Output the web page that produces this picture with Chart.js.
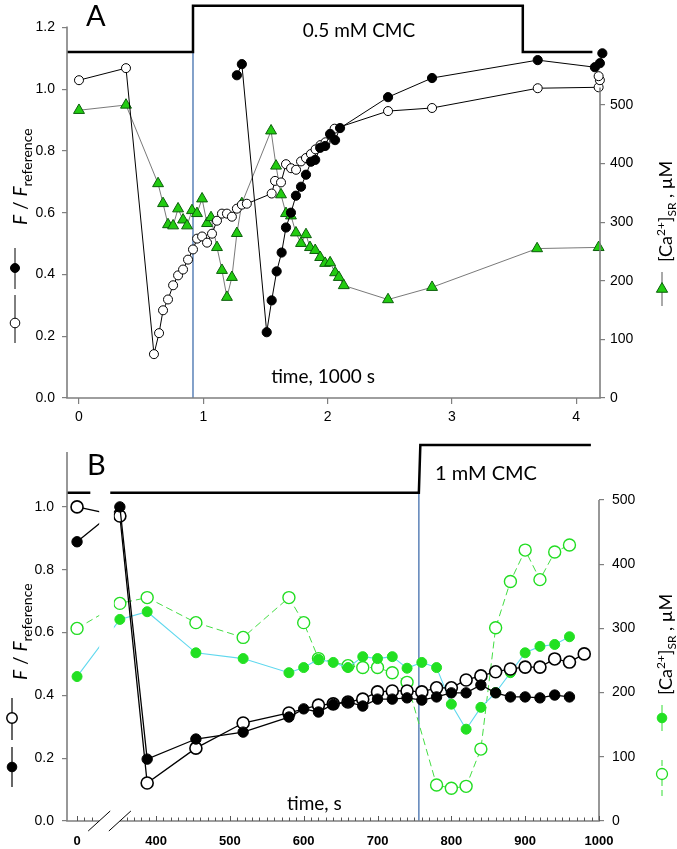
<!DOCTYPE html>
<html>
<head>
<meta charset="utf-8">
<script src="https://cdn.jsdelivr.net/npm/chart.js@4.4.1/dist/chart.umd.min.js"></script>
<style>
  html, body { margin:0; padding:0; background:#fff; }
  #a { position:absolute; left:0; top:0; }
  #b { position:absolute; left:0; top:430px; }
</style>
</head>
<body>
<canvas id="a" width="677" height="430"></canvas>
<canvas id="b" width="677" height="419"></canvas>
<script>
// ================= Panel A data (time in 1000 s) =================
const aTimeTicks = [0, 1, 2, 3, 4];
const aFTicks = [0, 0.2, 0.4, 0.6, 0.8, 1.0, 1.2];
const aCaTicks = [0, 100, 200, 300, 400, 500];

const aOpenT = [0,0.378,0.603,0.644,0.676,0.716,0.757,0.797,0.837,0.877,0.917,0.95,0.99,1.03,1.07,1.11,1.15,1.19,1.23,1.27,1.31,1.35,1.55,1.577,1.625,1.665,1.706,1.746,1.786,1.826,1.866,1.903,1.943,1.983,2.023,2.056,2.486,2.84,3.69,4.18,4.19,4.18];
const aOpenF = [1.029,1.068,0.142,0.21,0.284,0.319,0.365,0.397,0.416,0.448,0.481,0.516,0.523,0.503,0.532,0.574,0.597,0.597,0.587,0.613,0.626,0.629,0.662,0.703,0.698,0.757,0.744,0.739,0.766,0.777,0.79,0.805,0.819,0.828,0.852,0.872,0.929,0.939,1.003,1.006,1.029,1.042];

const aFillT = [1.27,1.31,1.51,1.55,1.59,1.63,1.665,1.705,1.745,1.786,1.826,1.866,1.9,1.94,1.98,2.02,2.06,2.10,2.486,2.84,3.69,4.15,4.19,4.21];
const aFillF = [1.045,1.081,0.213,0.316,0.41,0.471,0.552,0.60,0.655,0.684,0.723,0.765,0.771,0.81,0.816,0.855,0.835,0.874,0.974,1.036,1.094,1.071,1.084,1.116];

const aCaT = [0,0.378,0.636,0.676,0.716,0.757,0.797,0.837,0.869,0.909,0.949,0.99,1.03,1.062,1.11,1.15,1.19,1.23,1.27,1.31,1.545,1.585,1.625,1.665,1.705,1.745,1.786,1.826,1.858,1.9,1.94,1.98,2.02,2.06,2.09,2.13,2.486,2.84,3.685,4.18];
const aCa  = [491,500,366,332,296,294,323,304,294,320,315,340,298,308,257,218,172,206,281,332,456,396,347,315,311,282,264,279,257,252,240,230,231,214,206,192,168,189,255,257];

const aStepT = [-0.0965, 0.917, 0.917, 3.57, 3.57, 4.13];
const aStepF = [1.12, 1.12, 1.27, 1.27, 1.12, 1.12];
const aCmcOn = 0.917;

// ================= Panel B data (time in s) =================
const bTimeTicks = [0, 400, 500, 600, 700, 800, 900, 1000];
const bFTicks = [0, 0.2, 0.4, 0.6, 0.8, 1.0];
const bCaTicks = [0, 100, 200, 300, 400, 500];

const bOpenT = [0,351,388,454,518,580,620,640,660,680,700,720,740,760,780,800,820,840,860,880,900,920,940,960,980];
const bOpenF = [1.0,0.971,0.121,0.232,0.312,0.344,0.369,0.373,0.379,0.388,0.411,0.414,0.414,0.411,0.424,0.424,0.449,0.462,0.475,0.484,0.49,0.49,0.516,0.506,0.532];

const bFillT = [0,351,388,454,518,580,600,620,640,660,680,700,720,740,760,780,800,820,840,860,880,900,920,940,960];
const bFillF = [0.889,1.0,0.197,0.261,0.283,0.331,0.357,0.347,0.371,0.379,0.366,0.388,0.388,0.392,0.385,0.395,0.408,0.408,0.433,0.408,0.395,0.395,0.392,0.401,0.395];

const bCaOpenT = [0,351,388,454,518,580,600,620,660,680,700,720,740,780,800,820,840,860,880,900,920,940,960];
const bCaOpen  = [300,339,348,309,286,348,309,253,242,239,239,231,216,56,51,54,112,301,373,422,376,419,430];

const bCaFillT = [0,351,388,454,518,580,600,620,640,660,680,700,720,740,760,780,800,820,840,860,880,900,920,940,960];
const bCaFill  = [225,314,326,262,253,231,239,252,247,239,256,253,256,238,247,239,182,143,177,200,231,262,272,275,287];

const bStepT = [279.4, 311, null, 338, 756, 758, 989];
const bStepF = [1.045, 1.045, null, 1.045, 1.045, 1.197, 1.197];
const bCmcOn = 756;

// ================= layout constants =================
const bZeroAt = 293;          // axis position where t = 0 is drawn (broken axis)
const bBreak = [323, 351];    // axis gap
const bx = t => (t === 0 ? bZeroAt : t);
const pts = (xs, ys, f = v => v) => xs.map((t, i) => ({ x: f(t), y: ys[i] }));

const AXIS = '#7f7f7f';
const BLUE = '#5b82b8';
const TICKFONT = { family: 'Liberation Sans, Arial, sans-serif', size: 14 };
const LBL = 'Lato, "Open Sans", sans-serif';

function setTicks(list, map = v => v) {
  return function (axis) { axis.ticks = list.map(v => ({ value: map(v) })); };
}
function fitW(w) { return s => { s.width = w; s.paddingTop = 0; s.paddingBottom = 0; }; }
function fitH(h) { return s => { s.height = h; s.paddingLeft = 0; s.paddingRight = 0; }; }
function rotText(ctx, x, y, parts) {
  ctx.save();
  ctx.translate(x, y);
  ctx.rotate(-Math.PI / 2);
  ctx.textAlign = 'left'; ctx.textBaseline = 'alphabetic'; ctx.fillStyle = '#000';
  let cx = 0;
  for (const p of parts) { ctx.font = p.f; ctx.fillText(p.t, cx, p.dy || 0); cx += ctx.measureText(p.t).width; }
  ctx.restore();
}
function vline(ctx, x, y1, y2, color, width, dash) {
  ctx.save(); ctx.strokeStyle = color; ctx.lineWidth = width; ctx.setLineDash(dash || []);
  ctx.beginPath(); ctx.moveTo(x, y1); ctx.lineTo(x, y2); ctx.stroke(); ctx.restore();
}
function circ(ctx, x, y, r, fill, stroke, lw) {
  ctx.save(); ctx.beginPath(); ctx.arc(x, y, r, 0, Math.PI * 2);
  if (fill) { ctx.fillStyle = fill; ctx.fill(); }
  if (stroke) { ctx.strokeStyle = stroke; ctx.lineWidth = lw || 1; ctx.stroke(); }
  ctx.restore();
}
function tri(ctx, x, y, r, fill, stroke) {
  ctx.save(); ctx.beginPath();
  ctx.moveTo(x, y - r); ctx.lineTo(x + r * 0.866, y + r * 0.5); ctx.lineTo(x - r * 0.866, y + r * 0.5); ctx.closePath();
  ctx.fillStyle = fill; ctx.fill(); ctx.strokeStyle = stroke; ctx.lineWidth = 1; ctx.stroke(); ctx.restore();
}
function polyline(ctx, xs, ys, sx, sy) {
  ctx.beginPath();
  let pen = false;
  xs.forEach((t, i) => {
    if (t === null) { pen = false; return; }
    const X = sx.getPixelForValue(t), Y = sy.getPixelForValue(ys[i]);
    if (!pen) { ctx.moveTo(X, Y); pen = true; } else ctx.lineTo(X, Y);
  });
  ctx.stroke();
}
function leftTitle(ctx, x, y) {
  rotText(ctx, x, y, [
    { t: 'F', f: 'italic 19px ' + LBL },
    { t: ' / ', f: '19px ' + LBL },
    { t: 'F', f: 'italic 19px ' + LBL },
    { t: 'reference', f: '14px ' + LBL, dy: 5 }
  ]);
}
function rightTitle(ctx, x, y) {
  rotText(ctx, x, y, [
    { t: '[Ca', f: '18px ' + LBL },
    { t: '2+', f: '12px ' + LBL, dy: -7 },
    { t: ']', f: '18px ' + LBL },
    { t: 'SR', f: '12px ' + LBL, dy: 4 },
    { t: ' , \u00B5M', f: '18px ' + LBL }
  ]);
}

const common = {
  responsive: false, devicePixelRatio: 1, animation: false, events: [],
  plugins: { legend: { display: false }, tooltip: { enabled: false } }
};
const yGrid = { display: true, drawOnChartArea: false, drawTicks: true, tickLength: 5, color: AXIS, lineWidth: 1.2 };

// ================= Panel A =================
const annoA = {
  id: 'annoA',
  beforeDatasetsDraw(chart) {
    const { ctx, scales: { x, y } } = chart;
    ctx.save();
    vline(ctx, x.getPixelForValue(aCmcOn), y.getPixelForValue(aStepF[0]), y.getPixelForValue(0), BLUE, 1.5);
    ctx.strokeStyle = '#000'; ctx.lineWidth = 2.5; ctx.lineJoin = 'miter';
    polyline(ctx, aStepT, aStepF, x, y);
    ctx.restore();
  },
  afterDraw(chart) {
    const { ctx, chartArea: ca, scales: { x, y, y2 } } = chart;
    ctx.save();
    ctx.strokeStyle = AXIS; ctx.lineWidth = 1.6;
    ctx.beginPath();
    ctx.moveTo(ca.left, y.getPixelForValue(1.2) - 1); ctx.lineTo(ca.left, y.getPixelForValue(0));
    ctx.lineTo(ca.right, y.getPixelForValue(0));
    ctx.lineTo(ca.right, y2.getPixelForValue(530));
    ctx.stroke();
    ctx.fillStyle = '#000'; ctx.textBaseline = 'alphabetic'; ctx.textAlign = 'left';
    ctx.font = '29px ' + LBL; ctx.fillText('A', 86, 26);
    ctx.font = '19px ' + LBL; ctx.textAlign = 'center';
    ctx.fillText('0.5 mM CMC', 359, 37);
    ctx.fillText('time, 1000 s', 323, 383);
    leftTitle(ctx, 27, 225);
    rightTitle(ctx, 672, 262);
    // legend glyphs
    vline(ctx, 15, 248, 289, '#000', 1); circ(ctx, 15, 268, 4.5, '#000', '#000', 1);
    vline(ctx, 15, 295, 343, '#000', 1); circ(ctx, 15, 323, 4.8, '#fff', '#000', 1);
    vline(ctx, 662, 272, 306, '#555', 1); tri(ctx, 662, 289, 6.5, '#22cc11', '#0b5e0b');
    ctx.restore();
  }
};

new Chart(document.getElementById('a'), {
  type: 'scatter',
  data: {
    datasets: [
      { data: pts(aFillT, aFillF), yAxisID: 'y', showLine: true, borderColor: '#000', borderWidth: 1,
        pointRadius: 4.6, pointBackgroundColor: '#000', pointBorderColor: '#000', pointBorderWidth: 1, clip: false, order: 1 },
      { data: pts(aOpenT, aOpenF), yAxisID: 'y', showLine: true, borderColor: '#000', borderWidth: 1,
        pointRadius: 4.5, pointBackgroundColor: '#fff', pointBorderColor: '#000', pointBorderWidth: 1, clip: false, order: 2 },
      { data: pts(aCaT, aCa), yAxisID: 'y2', showLine: true, borderColor: '#6a6a6a', borderWidth: 0.9,
        pointStyle: 'triangle', pointRadius: 6.3, pointBackgroundColor: '#22cc11', pointBorderColor: '#0b5e0b',
        pointBorderWidth: 1, clip: false, order: 3 }
    ]
  },
  options: Object.assign({}, common, {
    layout: { padding: { top: 0, left: 0, right: 0, bottom: 0 } },
    scales: {
      x: { type: 'linear', min: -0.0965, max: 4.191, afterBuildTicks: setTicks(aTimeTicks),
        afterFit: fitH(32), border: { display: false },
        grid: { display: true, drawOnChartArea: false, drawTicks: true, tickLength: 6, color: AXIS, lineWidth: 1.2 },
        ticks: { font: TICKFONT, color: '#000', padding: 5, maxRotation: 0, callback: v => String(v) } },
      y: { type: 'linear', position: 'left', min: 0, max: 1.265, afterBuildTicks: setTicks(aFTicks),
        afterFit: fitW(67), border: { display: false }, grid: yGrid,
        ticks: { font: TICKFONT, color: '#000', padding: 7, callback: v => v.toFixed(1) } },
      y2: { type: 'linear', position: 'right', min: 0, max: 666.7, afterBuildTicks: setTicks(aCaTicks),
        afterFit: fitW(77), border: { display: false }, grid: yGrid,
        ticks: { font: TICKFONT, color: '#000', padding: 5, callback: v => String(v) } }
    }
  }),
  plugins: [annoA]
});

// ================= Panel B =================
const annoB = {
  id: 'annoB',
  beforeDatasetsDraw(chart) {
    const { ctx, scales: { x, y } } = chart;
    vline(ctx, x.getPixelForValue(bCmcOn), y.getPixelForValue(bStepF[0]), y.getPixelForValue(0), BLUE, 1.5);
  },
  afterDatasetsDraw(chart) {
    const { ctx, chartArea: ca, scales: { x, y } } = chart;
    ctx.save();
    // gap of the broken time axis
    const g0 = x.getPixelForValue(bBreak[0]), g1 = x.getPixelForValue(bBreak[1]) - 6;
    ctx.fillStyle = '#fff';
    ctx.fillRect(g0, ca.top, g1 - g0, ca.bottom - ca.top - 1);
    ctx.strokeStyle = '#000'; ctx.lineWidth = 2.5;
    polyline(ctx, bStepT, bStepF, x, y);
    ctx.restore();
  },
  afterDraw(chart) {
    const { ctx, chartArea: ca, scales: { x, y, y2 } } = chart;
    ctx.save();
    const y0 = y.getPixelForValue(0);
    ctx.strokeStyle = AXIS; ctx.lineWidth = 1.6;
    ctx.beginPath();
    ctx.moveTo(ca.left, y.getPixelForValue(1.175)); ctx.lineTo(ca.left, y0);
    ctx.lineTo(x.getPixelForValue(bBreak[0]), y0);
    ctx.moveTo(x.getPixelForValue(bBreak[1]), y0); ctx.lineTo(ca.right, y0);
    ctx.lineTo(ca.right, y2.getPixelForValue(500));
    ctx.stroke();
    // inward tick marks on the time axis
    ctx.lineWidth = 1; ctx.strokeStyle = '#555';
    const minor = [bZeroAt, bZeroAt + 10, bZeroAt + 20];
    for (let v = 360; v <= 1000; v += 10) minor.push(v);
    ctx.beginPath();
    for (const v of minor) {
      const X = Math.round(x.getPixelForValue(v)) + 0.5;
      const len = (v === bZeroAt || v % 100 === 0) ? 5 : 3.5;
      ctx.moveTo(X, y0); ctx.lineTo(X, y0 - len);
    }
    ctx.stroke();
    // break marks
    ctx.strokeStyle = '#000'; ctx.lineWidth = 1;
    ctx.beginPath();
    for (const v of bBreak) {
      const X = x.getPixelForValue(v);
      ctx.moveTo(X - 11, y0 + 10); ctx.lineTo(X + 11, y0 - 10);
    }
    ctx.stroke();
    // texts
    ctx.fillStyle = '#000'; ctx.textBaseline = 'alphabetic'; ctx.textAlign = 'left';
    ctx.font = '29px ' + LBL; ctx.fillText('B', 87, 45);
    ctx.font = '20px ' + LBL; ctx.fillText('1 mM CMC', 435, 50);
    ctx.font = '19px ' + LBL; ctx.fillText('time, s', 287, 380);
    leftTitle(ctx, 27, 250);
    rightTitle(ctx, 672, 265);
    // legend glyphs
    vline(ctx, 12, 268, 310, '#000', 1.2); circ(ctx, 12, 288, 5.2, '#fff', '#000', 1.5);
    vline(ctx, 12, 317, 357, '#000', 1.2); circ(ctx, 12, 337, 4.8, '#000', '#000', 1);
    vline(ctx, 662, 275, 301, '#33dd33', 1); circ(ctx, 662, 288, 4.8, '#22e022', '#22e022', 1);
    vline(ctx, 662, 330, 366, '#33dd33', 1, [6, 4]); circ(ctx, 662, 344, 5.5, '#fff', '#22dd22', 1.3);
    ctx.restore();
  }
};

new Chart(document.getElementById('b'), {
  type: 'scatter',
  data: {
    datasets: [
      { data: pts(bFillT, bFillF, bx), yAxisID: 'y', showLine: true, borderColor: '#000', borderWidth: 1.3,
        pointRadius: 5.2, pointBackgroundColor: '#000', pointBorderColor: '#000', pointBorderWidth: 1, clip: false, order: 1 },
      { data: pts(bOpenT, bOpenF, bx), yAxisID: 'y', showLine: true, borderColor: '#000', borderWidth: 1.3,
        pointRadius: 6, pointBackgroundColor: '#fff', pointBorderColor: '#000', pointBorderWidth: 1.6, clip: false, order: 2 },
      { data: pts(bCaFillT, bCaFill, bx), yAxisID: 'y2', showLine: true, borderColor: '#5fd8ee', borderWidth: 1.1,
        pointRadius: 5, pointBackgroundColor: '#22e022', pointBorderColor: '#22e022', pointBorderWidth: 1, clip: false, order: 3 },
      { data: pts(bCaOpenT, bCaOpen, bx), yAxisID: 'y2', showLine: true, borderColor: '#44dd44', borderWidth: 1,
        borderDash: [7, 4], pointRadius: 6, pointBackgroundColor: '#fff', pointBorderColor: '#22dd22',
        pointBorderWidth: 1.4, clip: false, order: 4 }
    ]
  },
  options: Object.assign({}, common, {
    layout: { padding: { top: 10, left: 0, right: 0, bottom: 0 } },
    scales: {
      x: { type: 'linear', min: 279.4, max: 1000, afterBuildTicks: setTicks(bTimeTicks, bx),
        afterFit: fitH(28), border: { display: false },
        grid: { display: false, drawTicks: false },
        ticks: { font: { family: TICKFONT.family, size: 13, weight: 'bold' }, color: '#000', padding: 13, maxRotation: 0,
          callback: v => (v === bZeroAt ? '0' : String(v)) } },
      y: { type: 'linear', position: 'left', min: 0, max: 1.213, afterBuildTicks: setTicks(bFTicks),
        afterFit: fitW(67), border: { display: false }, grid: yGrid,
        ticks: { font: TICKFONT, color: '#000', padding: 8, callback: v => v.toFixed(1) } },
      y2: { type: 'linear', position: 'right', min: 0, max: 593.5, afterBuildTicks: setTicks(bCaTicks),
        afterFit: fitW(78), border: { display: false }, grid: yGrid,
        ticks: { font: TICKFONT, color: '#000', padding: 8, callback: v => String(v) } }
    }
  }),
  plugins: [annoB]
});
</script>
</body>
</html>
